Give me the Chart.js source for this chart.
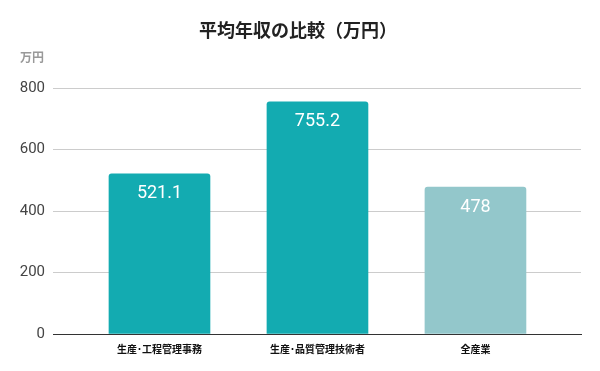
<!DOCTYPE html>
<html><head><meta charset="utf-8">
<script src="https://cdn.jsdelivr.net/npm/chart.js@4"></script>
<style>html,body{margin:0;padding:0;background:#fff}#wrap{width:600px;height:371px}</style>
</head><body><div id="wrap"><canvas id="c"></canvas></div>
<script>
const categories = ['生産･工程管理事務', '生産･品質管理技術者', '全産業'];
const values = [521.1, 755.2, 478];
const barColors = ['#13abb1', '#13abb1', '#93c7cb'];
const yTicks = [0, 200, 400, 600, 800];
const titleText = '平均年収の比較（万円）';
const unitText = '万円';

const extras = {
  id: 'extras',
  afterDraw(chart) {
    const ctx = chart.ctx;
    ctx.save();
    ctx.fillStyle = '#222';
    ctx.font = 'bold 18px "Noto Sans CJK JP"';
    ctx.textAlign = 'center';
    ctx.textBaseline = 'middle';
    ctx.fillText(titleText, 298, 30);
    ctx.fillStyle = '#999';
    ctx.font = 'bold 12px "Noto Sans CJK JP"';
    ctx.textAlign = 'left';
    ctx.fillText(unitText, 20, 57);
    const meta = chart.getDatasetMeta(0);
    ctx.fillStyle = '#fff';
    ctx.font = '18px Roboto';
    ctx.textAlign = 'center';
    meta.data.forEach((bar, i) => {
      ctx.fillText(String(values[i]), bar.x, bar.y + 20);
    });
    ctx.restore();
  }
};

new Chart(document.getElementById('c'), {
  type: 'bar',
  data: {
    datasets: [{
      data: values.map((v, i) => ({x: i, y: v})),
      backgroundColor: barColors,
      barThickness: 101,
      borderRadius: {topLeft: 3, topRight: 3, bottomLeft: 0, bottomRight: 0},
      borderSkipped: 'bottom'
    }]
  },
  options: {
    responsive: true,
    maintainAspectRatio: false,
    animation: false,
    layout: {padding: {top: 88, right: 19, bottom: 0, left: 0}},
    plugins: {legend: {display: false}, title: {display: false}, tooltip: {enabled: false}},
    scales: {
      x: {
        type: 'linear',
        offset: false,
        min: -0.674,
        max: 2.668,
        afterBuildTicks(s) { s.ticks = categories.map((_, i) => ({value: i})); },
        afterFit(s) { s.height = 37; },
        grid: {display: false, offset: false},
        border: {display: true, color: '#333', width: 1},
        ticks: {
          callback: (v) => categories[v] || '',
          font: {family: '"Noto Sans CJK JP"', size: 10, weight: 'bold'},
          color: '#111',
          maxRotation: 0,
          autoSkip: false,
          padding: 1
        }
      },
      y: {
        min: 0,
        max: 800,
        afterBuildTicks(s) { s.ticks = yTicks.map(v => ({value: v})); },
        afterFit(s) { s.width = 53; },
        grid: {
          color: (c) => c.tick && c.tick.value === 0 ? '#333' : '#ccc',
          drawTicks: false
        },
        border: {display: false},
        ticks: {
          font: {family: 'Roboto', size: 15},
          color: '#444',
          padding: 8
        }
      }
    }
  },
  plugins: [extras]
});
</script></body></html>
